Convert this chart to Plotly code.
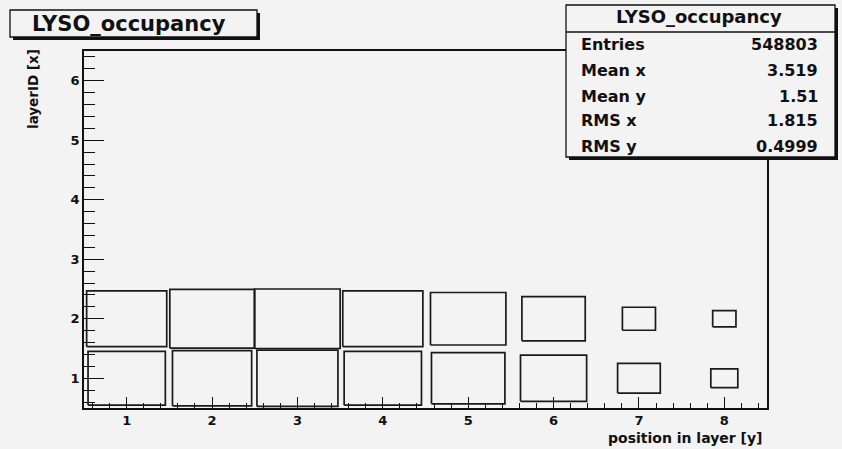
import numpy as np
import plotly.graph_objects as go

# 2D occupancy histogram: bin contents per (position in layer, layer ID)
positions = [1, 2, 3, 4, 5, 6, 7, 8]
layers = [1, 2]
counts_layer1 = [43330, 45450, 47560, 43350, 39110, 31710, 13210, 5280]
counts_layer2 = [46500, 51790, 52850, 46510, 41220, 29070, 7930, 3933]

hist_title = "LYSO_occupancy"
stat_names = ["Entries", "Mean x", "Mean y", "RMS x", "RMS y"]
stat_values = ["548803", "3.519", "1.51", "1.815", "0.4999"]
x_title = "position in layer [y]"
y_title = "layerID [x]"

BG = "#f3f3f3"
INK = "#111111"
FONT = "DejaVu Sans"
W, H = 842, 449
L, R, T, B = 84, 767, 51, 408  # frame edges in pixels

counts = np.array([counts_layer1, counts_layer2], dtype=float)
cmax = counts.max()

fig = go.Figure()

# BOX drawing: box area proportional to bin content, bin size is 1 x 1
for li, layer in enumerate(layers):
    for pi, pos in enumerate(positions):
        side = np.sqrt(counts[li, pi] / cmax)
        hw = 0.5 * side
        xs = [pos - hw, pos + hw, pos + hw, pos - hw, pos - hw]
        ys = [layer - hw, layer - hw, layer + hw, layer + hw, layer - hw]
        fig.add_trace(go.Scatter(
            x=xs, y=ys, mode="lines",
            line=dict(color="#1a1a1a", width=1.7),
            hoverinfo="skip", showlegend=False,
        ))


def px_x(p):
    return (p - L) / (R - L)


def px_y(p):
    return (B - p) / (B - T)


shapes = []
annotations = []


def shadow_box(x0, y0, x1, y1, off=3):
    shapes.append(dict(type="rect", xref="paper", yref="paper",
                       x0=px_x(x0 + off), x1=px_x(x1 + off), y0=px_y(y0 + off), y1=px_y(y1 + off),
                       fillcolor=INK, line=dict(width=0), layer="above"))
    shapes.append(dict(type="rect", xref="paper", yref="paper",
                       x0=px_x(x0), x1=px_x(x1), y0=px_y(y0), y1=px_y(y1),
                       fillcolor=BG, line=dict(color=INK, width=1.3), layer="above"))


def text(x, y, s, size, xanchor="center", yanchor="middle", angle=0):
    annotations.append(dict(xref="paper", yref="paper", x=px_x(x), y=px_y(y),
                            text="<b>%s</b>" % s, showarrow=False, textangle=angle,
                            font=dict(family=FONT, size=size, color=INK),
                            xanchor=xanchor, yanchor=yanchor))


# Title box
shadow_box(10, 10, 257, 37)
text(129, 24, hist_title, 21)

# Statistics box
shadow_box(566, 5, 835, 157)
shapes.append(dict(type="line", xref="paper", yref="paper",
                   x0=px_x(566), x1=px_x(835), y0=px_y(32), y1=px_y(32),
                   line=dict(color=INK, width=1.3), layer="above"))
text(699, 17, hist_title, 18)
row_y = [44, 70, 96, 121, 146]
for name, val, ry in zip(stat_names, stat_values, row_y):
    text(579, ry, name, 16, xanchor="left")
    text(820, ry, val, 16, xanchor="right")

# Axis titles
text(765, 438, x_title, 14, xanchor="right")
text(33, 47, y_title, 13.5, yanchor="top", angle=-90)

fig.update_layout(
    width=W, height=H,
    margin=dict(l=L, r=W - R, t=T, b=H - B, pad=0),
    paper_bgcolor=BG, plot_bgcolor=BG,
    shapes=shapes, annotations=annotations,
    showlegend=False,
)
fig.update_xaxes(
    range=[0.5, 8.5], tickmode="linear", tick0=1, dtick=1,
    ticks="inside", ticklen=11, tickwidth=1.3, tickcolor=INK,
    minor=dict(ticks="inside", ticklen=5, dtick=0.2, tick0=0, tickcolor=INK, tickwidth=1.1),
    showline=True, linecolor=INK, linewidth=1.6, mirror=True,
    showgrid=False, zeroline=False,
    tickfont=dict(family=FONT, size=13, color=INK, weight="bold"),
)
fig.update_yaxes(
    range=[0.5, 6.5], tickmode="linear", tick0=1, dtick=1,
    ticks="inside", ticklen=20, tickwidth=1.3, tickcolor=INK,
    minor=dict(ticks="inside", ticklen=11, dtick=0.2, tick0=0, tickcolor=INK, tickwidth=1.1),
    showline=True, linecolor=INK, linewidth=1.6, mirror=True,
    showgrid=False, zeroline=False,
    tickfont=dict(family=FONT, size=13, color=INK, weight="bold"),
)

fig.write_html("out.html")
